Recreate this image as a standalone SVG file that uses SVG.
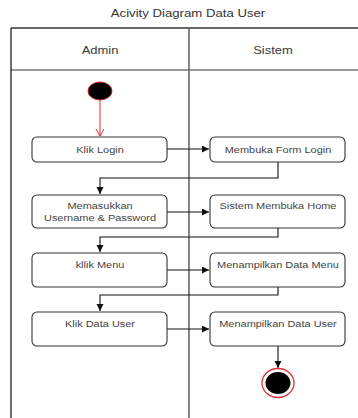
<svg xmlns="http://www.w3.org/2000/svg" width="358" height="418" viewBox="0 0 358 418">
  <style>
    .title { font-family: "Liberation Sans", Arial, sans-serif; font-size: 11px; fill: #333; text-anchor: middle; }
    .lane { font-family: "Liberation Sans", Arial, sans-serif; font-size: 11px; fill: #3a3a3a; text-anchor: middle; }
    .lbl { font-family: "Liberation Sans", Arial, sans-serif; font-size: 9.3px; fill: #444; text-anchor: middle; }
    .box { fill: #fff; stroke: #333; stroke-width: 1.1; }
    .flow { fill: none; stroke: #111; stroke-width: 1.1; }
  </style>
  <defs>
    <marker id="arrow" markerUnits="userSpaceOnUse" markerWidth="9" markerHeight="8" refX="7" refY="3.5" orient="auto">
      <path d="M0,0 L7,3.5 L0,7 Z" fill="#111"/>
    </marker>
    <marker id="open" markerUnits="userSpaceOnUse" markerWidth="10" markerHeight="10" refX="7" refY="4" orient="auto">
      <path d="M0,0 L7,4 L0,8" fill="none" stroke="#d33" stroke-width="1"/>
    </marker>
  </defs>

  <rect width="358" height="418" fill="#fff"/>

  <!-- title -->
  <text class="title" transform="matrix(1.2 0 0 1 188 17)">Acivity Diagram Data User</text>

  <!-- swimlane frame -->
  <g id="lanes">
    <line x1="11" y1="28" x2="358" y2="28" stroke="#333" stroke-width="1.5"/>
    <line x1="11" y1="70" x2="358" y2="70" stroke="#777" stroke-width="1.5"/>
    <line x1="11" y1="28" x2="11" y2="418" stroke="#222" stroke-width="1.3"/>
    <line x1="189" y1="28" x2="189" y2="418" stroke="#666" stroke-width="1.6"/>
    <text class="lane" transform="matrix(1.18 0 0 1 100 54)">Admin</text>
    <text class="lane" transform="matrix(1.18 0 0 1 273 54)">Sistem</text>
  </g>

  <!-- connectors -->
  <g id="connectors">
    <line x1="100" y1="100" x2="100" y2="136" stroke="#d33" stroke-width="1" marker-end="url(#open)"/>
    <path class="flow" d="M167,149 H209" marker-end="url(#arrow)"/>
    <path class="flow" d="M278,162 V178 H100 V194" marker-end="url(#arrow)"/>
    <path class="flow" d="M167,212 H209" marker-end="url(#arrow)"/>
    <path class="flow" d="M278,228 V237 H100 V252" marker-end="url(#arrow)"/>
    <path class="flow" d="M167,270 H209" marker-end="url(#arrow)"/>
    <path class="flow" d="M278,287 V295 H100 V311" marker-end="url(#arrow)"/>
    <path class="flow" d="M167,329 H209" marker-end="url(#arrow)"/>
    <path class="flow" d="M278,346 V368" marker-end="url(#arrow)"/>
  </g>

  <!-- start node -->
  <g id="start">
    <ellipse cx="100" cy="91" rx="12" ry="9" fill="#000" stroke="#c22" stroke-width="1"/>
  </g>

  <g id="klik-login">
    <rect class="box" x="32" y="137" width="135" height="25" rx="5"/>
    <text class="lbl" transform="matrix(1.18 0 0 1 100 152.5)">Klik Login</text>
  </g>

  <g id="membuka-form-login">
    <rect class="box" x="210" y="137" width="135" height="25" rx="5"/>
    <text class="lbl" transform="matrix(1.18 0 0 1 278 152.5)">Membuka Form Login</text>
  </g>

  <g id="memasukkan">
    <rect class="box" x="32" y="195" width="135" height="33" rx="5"/>
    <text class="lbl" transform="matrix(1.18 0 0 1 100 209)">Memasukkan</text>
    <text class="lbl" transform="matrix(1.18 0 0 1 100 221)">Username &amp; Password</text>
  </g>

  <g id="sistem-membuka-home">
    <rect class="box" x="210" y="195" width="135" height="33" rx="5"/>
    <text class="lbl" transform="matrix(1.18 0 0 1 278 209)">Sistem Membuka Home</text>
  </g>

  <g id="klik-menu">
    <rect class="box" x="32" y="253" width="135" height="34" rx="5"/>
    <text class="lbl" transform="matrix(1.18 0 0 1 100 268)">kllik Menu</text>
  </g>

  <g id="menampilkan-data-menu">
    <rect class="box" x="210" y="253" width="135" height="34" rx="5"/>
    <text class="lbl" transform="matrix(1.18 0 0 1 278 268)">Menampilkan Data Menu</text>
  </g>

  <g id="klik-data-user">
    <rect class="box" x="32" y="312" width="135" height="34" rx="5"/>
    <text class="lbl" transform="matrix(1.18 0 0 1 100 327)">Klik Data User</text>
  </g>

  <g id="menampilkan-data-user">
    <rect class="box" x="210" y="312" width="135" height="34" rx="5"/>
    <text class="lbl" transform="matrix(1.18 0 0 1 278 327)">Menampilkan Data User</text>
  </g>

  <!-- end node -->
  <g id="end">
    <ellipse cx="278" cy="383" rx="16" ry="14.5" fill="#fff" stroke="#d33" stroke-width="1.3"/>
    <ellipse cx="278" cy="383" rx="12.5" ry="11" fill="#000"/>
  </g>
</svg>
